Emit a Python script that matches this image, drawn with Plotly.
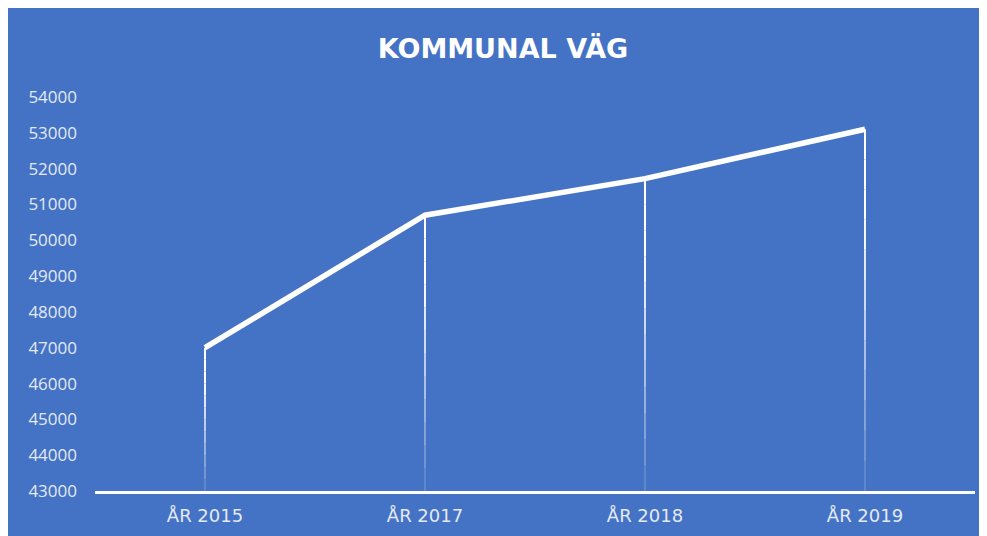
import plotly.graph_objects as go

categories = ["ÅR 2015", "ÅR 2017", "ÅR 2018", "ÅR 2019"]
values = [47000, 50700, 51720, 53100]
y_ticks = [43000, 44000, 45000, 46000, 47000, 48000, 49000, 50000, 51000, 52000, 53000, 54000]
y_tick_labels = [str(v) for v in y_ticks]

BLUE = "#4472C4"
Y_MIN, Y_MAX = 43000, 54000

fig = go.Figure()

# drop lines with fading toward the axis
n_seg = 12
for cat, v in zip(categories, values):
    for i in range(n_seg):
        y0 = Y_MIN + (v - Y_MIN) * i / n_seg
        y1 = Y_MIN + (v - Y_MIN) * (i + 1) / n_seg
        op = min(1.0, 0.05 + 0.95 * (i + 1) / n_seg * 1.25)
        fig.add_trace(go.Scatter(
            x=[cat, cat], y=[y0, y1], mode="lines",
            line=dict(color=f"rgba(255,255,255,{op:.3f})", width=2),
            hoverinfo="skip", showlegend=False))

fig.add_trace(go.Scatter(
    x=categories, y=values, mode="lines",
    line=dict(color="white", width=5.5),
    showlegend=False))

W, H = 995, 540
fig.update_layout(
    width=W, height=H,
    paper_bgcolor=BLUE, plot_bgcolor=BLUE,
    margin=dict(l=87, r=W - 967, t=89, b=H - 483),
    title=dict(text="<b>KOMMUNAL VÄG</b>", x=495 / W, xanchor="center",
               y=1 - 41 / H, yanchor="middle",
               font=dict(family="DejaVu Sans", size=27, color="white")),
    xaxis=dict(type="category", range=[-0.5, 3.5], showgrid=False,
               showline=True, linecolor="white", linewidth=2.5,
               ticks="", ticklabelstandoff=7,
               tickfont=dict(family="DejaVu Sans", size=18, color="#E3EAF6"),
               zeroline=False, fixedrange=True),
    yaxis=dict(range=[Y_MIN, Y_MAX], tickvals=y_ticks, ticktext=y_tick_labels,
               showgrid=False, showline=False, zeroline=False, ticks="",
               ticklabelstandoff=17,
               tickfont=dict(family="Open Sans", size=17, color="#E3EAF6"),
               fixedrange=True),
)

fig.write_html("out.html")
